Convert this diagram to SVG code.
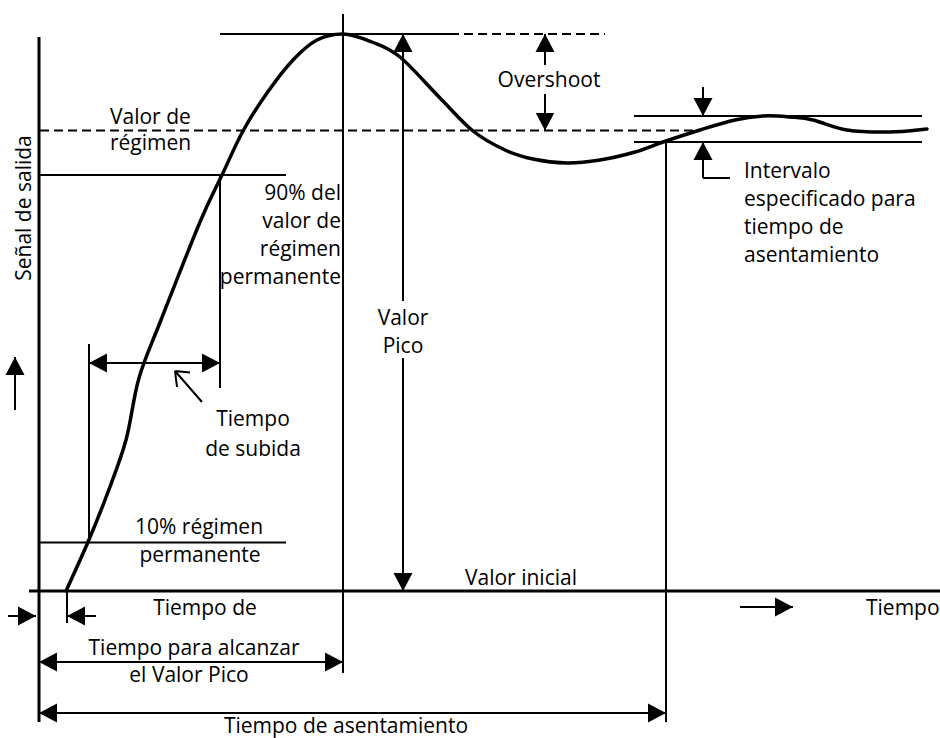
<svg xmlns="http://www.w3.org/2000/svg" width="940" height="738" viewBox="0 0 940 738">
<defs>
<style>
text{font-family:"Open Sans","Noto Sans","Liberation Sans",sans-serif;font-size:21px;fill:#000}
.m{text-anchor:middle}.e{text-anchor:end}
.ln{stroke:#000;stroke-width:2;fill:none}
.ax{stroke:#000;stroke-width:3;fill:none}
.ds{stroke:#000;stroke-width:2;fill:none;stroke-dasharray:9 5}
.cv{stroke:#000;stroke-width:3.5;fill:none;stroke-linecap:round;stroke-linejoin:round}
</style>
<marker id="ah" markerUnits="userSpaceOnUse" markerWidth="19" markerHeight="20" refX="18" refY="9.5" orient="auto-start-reverse" viewBox="0 0 19 19">
<path d="M0,0 L18,9.5 L0,19 z" fill="#000"/>
</marker>
</defs>
<rect width="940" height="738" fill="#fff"/>
<g id="axes">
<path class="ax" d="M39,37 V722"/>
<path class="ax" d="M29,591 H940"/>
</g>
<g id="curve">
<path class="cv" d="M66,591 C69.7,582.8 81,558.5 88,542 C95,525.5 101.7,509 108,492 C114.3,475 120.8,459 126,440 C131.2,421 133.2,398 139,378 C144.8,358 150.8,346 161,320 C171.2,294 189.8,246.2 200,222 C210.2,197.8 214.8,190.2 222,175 C229.2,159.8 235.5,144.7 243,131 C250.5,117.3 258.7,104.8 267,93 C275.3,81.2 284.7,68.8 293,60 C301.3,51.2 308.7,44.3 317,40 C325.3,35.7 333.8,34 343,34 C352.2,34 362.5,38.2 372,42 C381.5,45.8 388.7,47.7 400,57 C411.3,66.3 427.8,85.7 440,98 C452.2,110.3 462.2,122.3 473,131 C483.8,139.7 495,145.3 505,150 C515,154.7 522.7,156.8 533,159 C543.3,161.2 555.8,162.8 567,163 C578.2,163.2 588.7,161.8 600,160 C611.3,158.2 624.5,155 635,152 C645.5,149 652.2,145.7 663,142 C673.8,138.3 688,133.7 700,130 C712,126.3 724.5,122.3 735,120 C745.5,117.7 753.8,116.7 763,116 C772.2,115.3 781.7,116.3 790,117 C798.3,117.7 803.5,117.7 813,120 C822.5,122.3 834.2,128 847,130 C859.8,132 876.7,132.2 890,132 C903.3,131.8 920.8,129.5 927,129"/>
</g>
<g id="connectors">
<path class="ds" d="M40,130.5 H700"/>
<path class="ln" d="M220,34 H450"/>
<path class="ds" d="M450,34 H605"/>
<path class="ln" d="M39,175 H286"/>
<path class="ln" d="M39,542.5 H286"/>
<path class="ln" d="M343,14 V673"/>
<path class="ln" d="M89,344 V542"/>
<path class="ln" d="M220,175 V388"/>
<path class="ln" d="M89,363 H220" marker-start="url(#ah)" marker-end="url(#ah)"/>
<path class="ln" d="M202,402 L175,371 M175,371 L190,372.5 M175,371 L177,387"/>
<path class="ln" d="M403,301 V34" marker-end="url(#ah)"/>
<path class="ln" d="M403,358 V591" marker-end="url(#ah)"/>
<path class="ln" d="M545,65 V34" marker-end="url(#ah)"/>
<path class="ln" d="M545,94 V130.5" marker-end="url(#ah)"/>
<path class="ln" d="M634,116 H922"/>
<path class="ln" d="M634,142 H922"/>
<path class="ln" d="M703,87 V116" marker-end="url(#ah)"/>
<path class="ln" d="M703,178 V142" marker-end="url(#ah)"/>
<path class="ln" d="M703,178 H730"/>
<path class="ln" d="M666,142 V722"/>
<path class="ln" d="M8,616 H36" marker-end="url(#ah)"/>
<path class="ln" d="M96,616 H67" marker-end="url(#ah)"/>
<path class="ln" d="M67,591 V623"/>
<path class="ln" d="M39,662 H343" marker-start="url(#ah)" marker-end="url(#ah)"/>
<path class="ln" d="M39,713 H666" marker-start="url(#ah)" marker-end="url(#ah)"/>
<path class="ln" d="M740,607 H793" marker-end="url(#ah)"/>
<path class="ln" d="M15,410 V357" marker-end="url(#ah)"/>
</g>
<g id="labels">
<text transform="translate(31,208) rotate(-90)" class="m">Señal de salida</text>
<text x="110" y="124">Valor de</text>
<text x="110" y="150">régimen</text>
<text x="341" y="200" class="e">90% del</text>
<text x="341" y="228" class="e">valor de</text>
<text x="341" y="256" class="e">régimen</text>
<text x="341" y="284" class="e">permanente</text>
<text x="403" y="325" class="m">Valor</text>
<text x="403" y="353" class="m">Pico</text>
<text x="549" y="87" class="m">Overshoot</text>
<text x="744" y="178">Intervalo</text>
<text x="744" y="206">especificado para</text>
<text x="744" y="234">tiempo de</text>
<text x="744" y="262">asentamiento</text>
<text x="253" y="426" class="m">Tiempo</text>
<text x="253" y="456" class="m">de subida</text>
<text x="199" y="534" class="m">10% régimen</text>
<text x="200" y="562" class="m">permanente</text>
<text x="521" y="585" class="m">Valor inicial</text>
<text x="205" y="615" class="m">Tiempo de</text>
<text x="194" y="655" class="m">Tiempo para alcanzar</text>
<text x="189" y="682" class="m">el Valor Pico</text>
<text x="346" y="733" class="m">Tiempo de asentamiento</text>
<text x="866" y="615">Tiempo</text>
</g>
</svg>
